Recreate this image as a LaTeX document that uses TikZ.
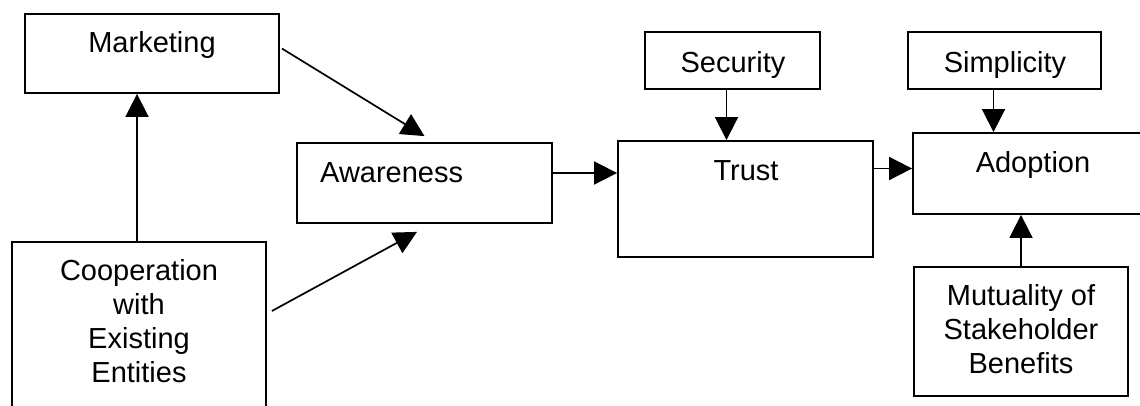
\documentclass[tikz,border=0pt]{standalone}
\usepackage{fontspec}
\setmainfont{Liberation Sans}
\usetikzlibrary{arrows.meta}
\begin{document}
\begin{tikzpicture}[x=1pt,y=-1pt,
  box/.style={draw, line width=1.8pt, inner sep=0pt, rectangle},
  txt/.style={font=\fontsize{29}{34}\selectfont, inner sep=0pt, align=center, anchor=base},
  arr/.style={line width=1.7pt, -{Triangle[length=23pt,width=23pt]}}]
\useasboundingbox (0,0) rectangle (1140,405);

% boxes
\node[box, minimum width=254pt, minimum height=79pt]  (mkt)   at (152,53.5)   {};
\node[box, minimum width=255pt, minimum height=80pt]  (aware) at (424.5,183)  {};
\node[box, minimum width=254pt, minimum height=173pt] (coop)  at (139,328.5)  {};
\node[box, minimum width=175pt, minimum height=57pt]  (sec)   at (732.5,60.5) {};
\node[box, minimum width=255pt, minimum height=116pt] (trust) at (745.5,199)  {};
\node[box, minimum width=193pt, minimum height=57pt]  (simp)  at (1004.5,60.5){};
\node[box, minimum width=240pt, minimum height=81pt]  (adopt) at (1033,173.5) {};
\node[box, minimum width=214pt, minimum height=129pt] (mut)   at (1021,331.5) {};

% labels (multi-line labels sit on the baseline of their last line)
\node[txt] (mkt-t)   at (152,52)  {Marketing};
\node[txt, anchor=base west] (aware-t) at (320,182) {Awareness};
\node[txt] (coop-t)  at (139,382) {Cooperation\\with\\Existing\\Entities};
\node[txt] (sec-t)   at (733,72)  {Security};
\node[txt] (trust-t) at (746,180) {Trust};
\node[txt] (simp-t)  at (1005,72) {Simplicity};
\node[txt] (adopt-t) at (1033,172){Adoption};
\node[txt] (mut-t)   at (1021,373){Mutuality of\\Stakeholder\\Benefits};

% connectors
\draw[arr] ([xshift=-2pt]coop.north) -- ([xshift=-2pt]coop.north |- mkt.south);
\draw[arr] ([yshift=5pt]mkt.east) ++(2,0) -- ([yshift=6pt]aware.north);
\draw[arr] ([xshift=5pt,yshift=17.5pt]coop.east) -- ([xshift=-7.5pt,yshift=-8pt]aware.south);
\draw[arr] ([yshift=10pt]aware.east) -- ([yshift=10pt]aware.east -| trust.west);
\draw[arr] ([xshift=-6pt]sec.south) -- ([xshift=-6pt]sec.south |- trust.north);
\draw[arr] ([yshift=5pt]adopt.west -| trust.east) -- ([yshift=5pt]adopt.west);
\draw[arr] ([xshift=-11pt]simp.south) -- ([xshift=-11pt]simp.south |- adopt.north);
\draw[arr] (mut.north) -- (mut.north |- adopt.south);
\end{tikzpicture}
\end{document}
